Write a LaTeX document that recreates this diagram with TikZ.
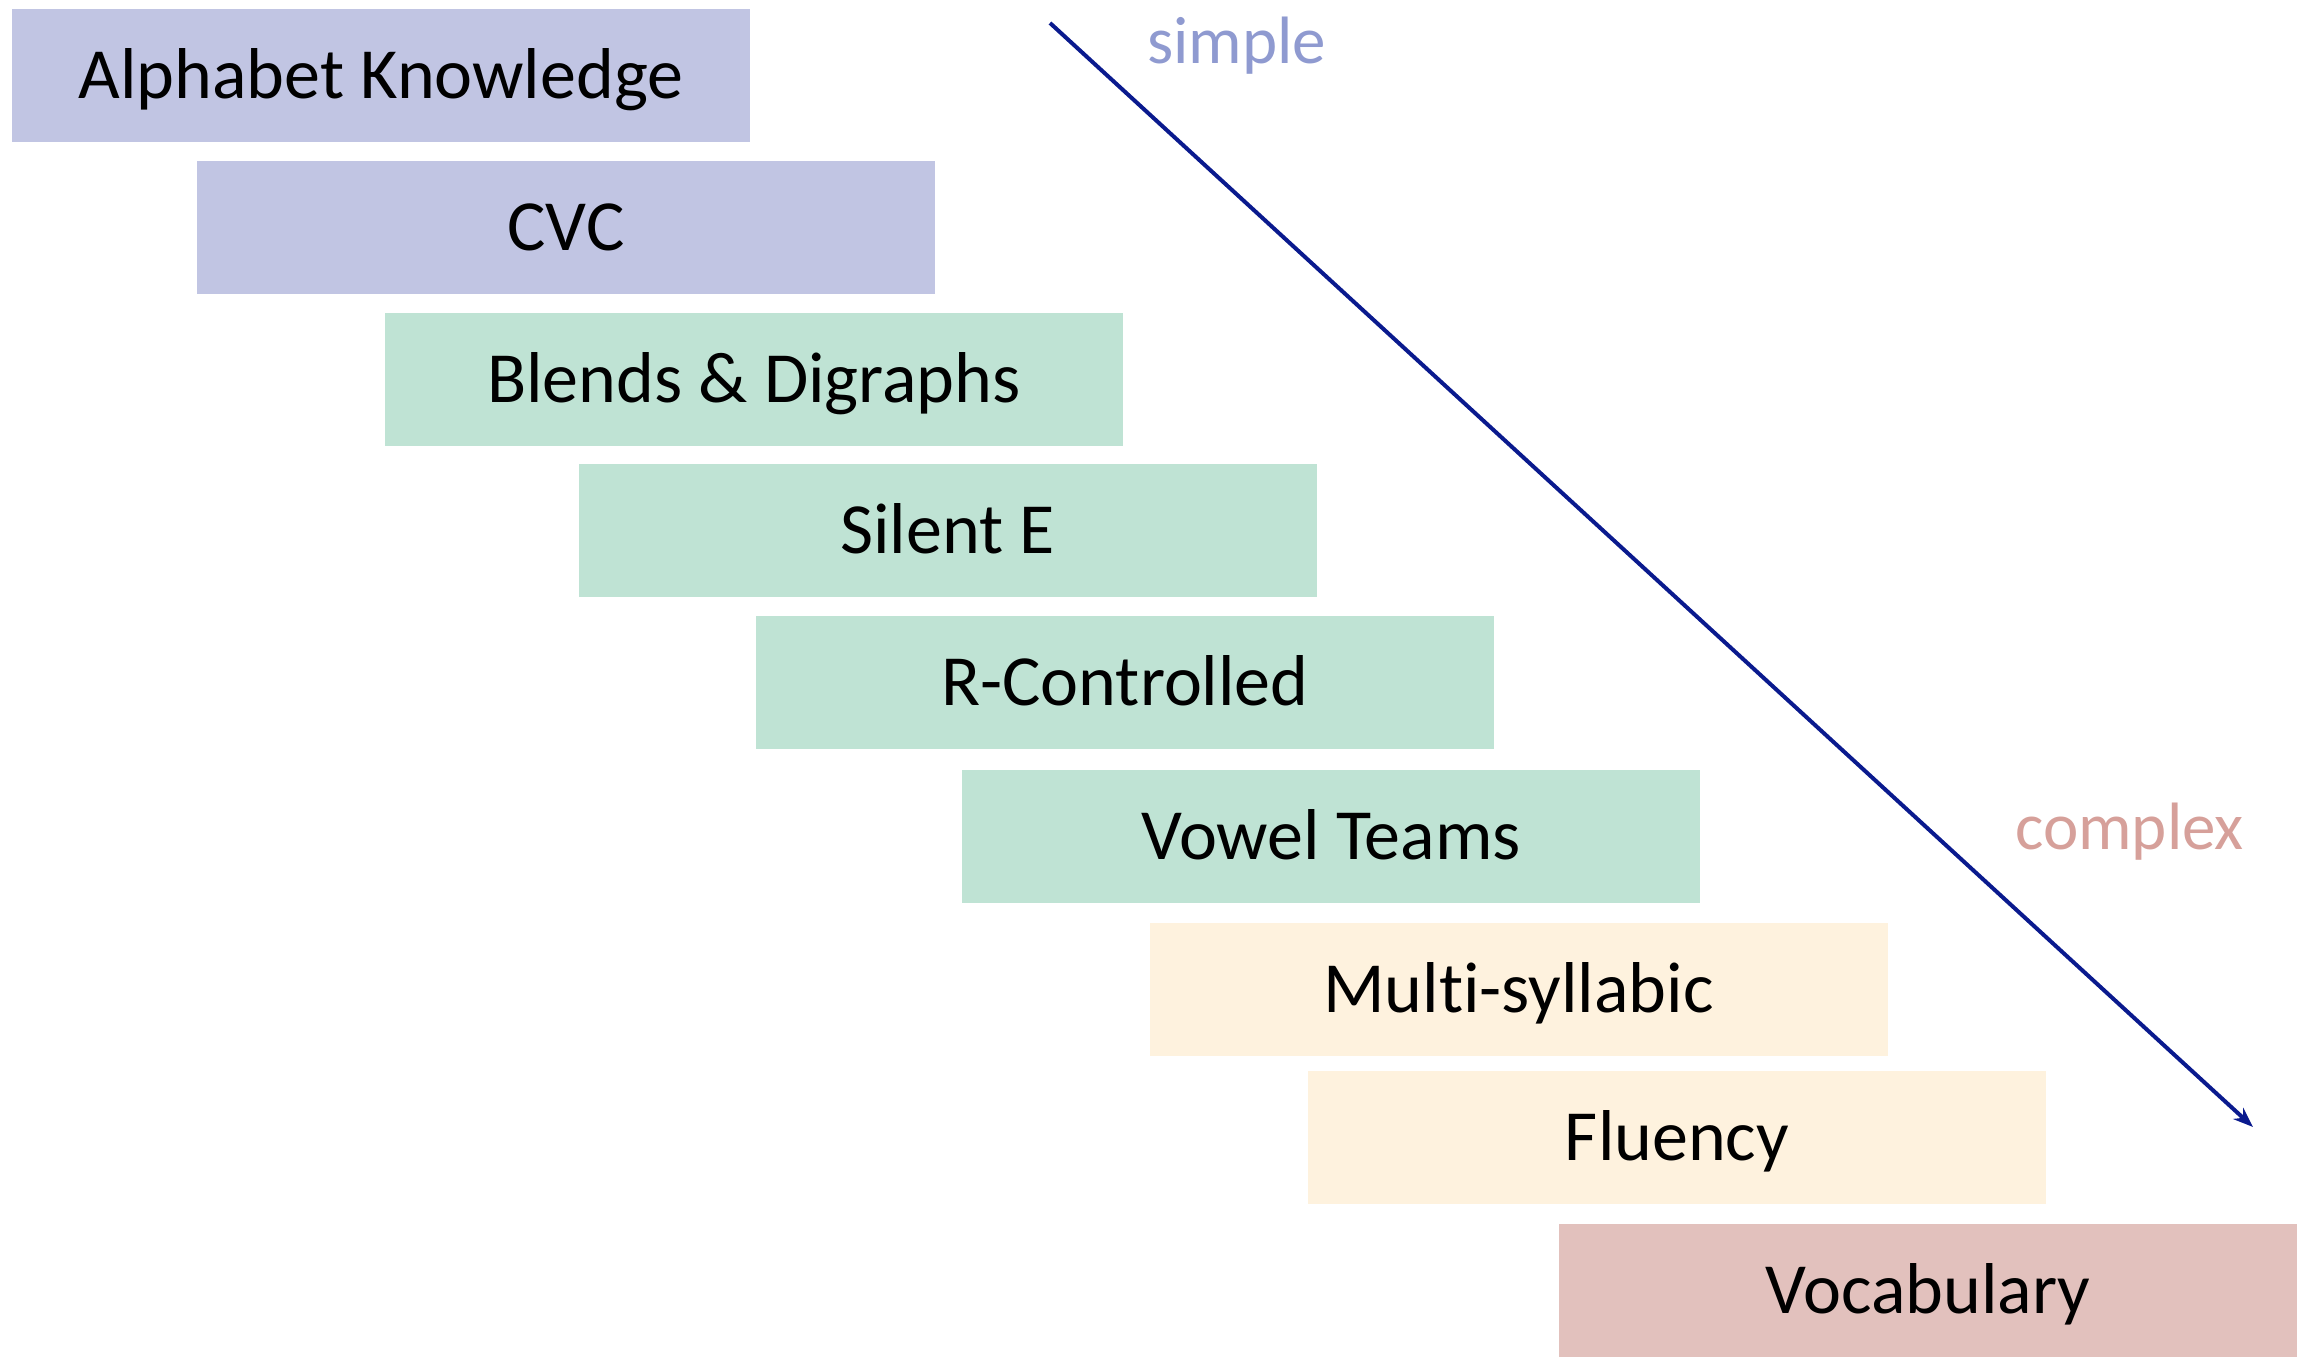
\documentclass[tikz,border=0pt]{standalone}
\usepackage{fontspec}
\setmainfont{Carlito}[Ligatures=NoCommon]
\usetikzlibrary{arrows.meta}
\definecolor{lav}{HTML}{C1C5E3}
\definecolor{mint}{HTML}{BFE3D4}
\definecolor{cream}{HTML}{FEF2DE}
\definecolor{rose}{HTML}{E2C1BD}
\definecolor{navy}{HTML}{0A1A8E}
\definecolor{simplec}{HTML}{8F9AD0}
\definecolor{complexc}{HTML}{D6A09A}
\tikzset{
  stage/.style={rectangle, inner sep=0pt, minimum width=738pt, minimum height=133pt,
    text height=46pt, text depth=0pt, font=\fontsize{72}{80}\selectfont, text=black},
  tag/.style={inner sep=0pt, font=\fontsize{67}{72}\selectfont, anchor=base west},
  flow/.style={draw=navy, line width=4pt, -{Stealth[length=20pt, width=15pt]}}
}
\begin{document}
\begin{tikzpicture}[x=1pt, y=-1pt]
\useasboundingbox (0,0) rectangle (2302,1357);
\node[stage, fill=lav]   (ak) at (381,75.5)   {Alphabet Knowledge};
\node[stage, fill=lav]   (cvc) at (566,227)   {CVC};
\node[stage, fill=mint]  (bd) at (754,379)    {Blends \& Digraphs};
\node[stage, fill=mint]  (se) at (947.5,530)  {Silent E};
\node[stage, fill=mint]  (rc) at (1125,682)   {R-Controlled};
\node[stage, fill=mint]  (vt) at (1331,836)   {Vowel Teams};
\node[stage, fill=cream] (ms) at (1518.5,989.5) {Multi-syllabic};
\node[stage, fill=cream] (fl) at (1677,1137)  {Fluency};
\node[stage, fill=rose]  (vo) at (1928,1290)  {Vocabulary};
\coordinate (s) at (1050,23);
\coordinate (e) at (2253,1127);
\draw[flow] (s) -- (e);
\node[tag, text=simplec] (simple) at (1147,63) {simple};
\node[tag, text=complexc] (complex) at (2015,849) {complex};
\end{tikzpicture}
\end{document}
